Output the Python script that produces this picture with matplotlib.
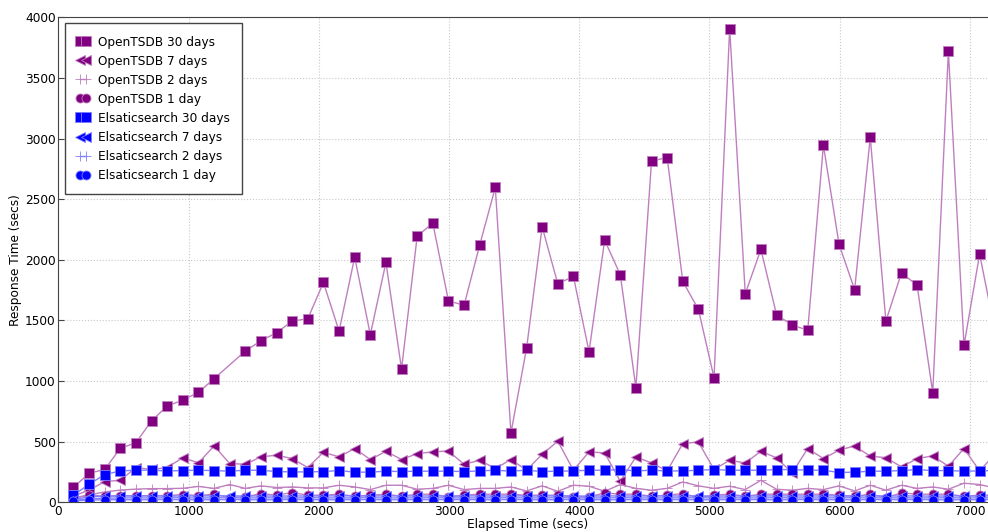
import numpy as np
import matplotlib
matplotlib.use("Agg")
import matplotlib.pyplot as plt

# sample times (secs)
elapsed = [115, 235, 355, 475, 595, 715, 835, 955, 1075, 1195,
           1315, 1435, 1555, 1675, 1795, 1915, 2035, 2155, 2275, 2395,
           2515, 2635, 2755, 2875, 2995, 3115, 3235, 3355, 3475, 3595,
           3715, 3835, 3955, 4075, 4195, 4315, 4435, 4555, 4675, 4795,
           4915, 5035, 5155, 5275, 5395, 5515, 5635, 5755, 5875, 5995,
           6115, 6235, 6355, 6475, 6595, 6715, 6835, 6955, 7075, 7195]

tsdb_30 = [123, 238, 271, 444, 491, 672, 793, 843, 906, 1019,
           np.nan, 1247, 1332, 1398, 1494, 1514, 1813, 1412, 2022, 1382,
           1978, 1099, 2195, 2303, 1662, 1624, 2121, 2597, 570, 1269,
           2272, 1802, 1863, 1241, 2162, 1877, 945, 2814, 2844, 1822,
           1591, 1027, 3908, 1720, 2086, 1547, 1461, 1420, 2946, 2129,
           1753, 3012, 1494, 1893, 1789, 903, 3721, 1294, 2047, 1400]

tsdb_7 = [50, 100, 170, 181, 286, 270, 286, 368, 324, 465,
          319, 313, 374, 388, 360, 286, 412, 374, 443, 352,
          420, 352, 401, 415, 423, 313, 346, 278, 352, 264,
          396, 503, 264, 415, 407, 173, 374, 324, 258, 484,
          497, 270, 346, 324, 420, 366, 242, 443, 360, 429,
          465, 379, 368, 291, 360, 382, 297, 443, 258, 400]

tsdb_2 = [30, 60, 85, 100, 108, 112, 112, 115, 130, 114,
          146, 114, 135, 121, 126, 118, 118, 140, 126, 104,
          140, 140, 107, 114, 140, 104, 114, 114, 126, 93,
          135, 90, 140, 132, 90, 146, 114, 99, 114, 167,
          135, 114, 132, 104, 181, 107, 99, 114, 104, 135,
          93, 140, 99, 140, 114, 126, 107, 157, 146, 115]

tsdb_1 = [36, 60, 49, 55, 53, 55, 55, 63, 55, 66,
          38, 44, 71, 58, 80, 58, 58, 66, 49, 58,
          66, 49, 66, 66, 44, 58, 66, 66, 66, 58,
          58, 58, 44, 44, 77, 66, 66, 49, 58, 71,
          38, 58, 66, 49, 66, 66, 66, 66, 66, 58,
          49, 66, 38, 77, 66, 66, 66, 49, 58, 60]

es_30 = [58, 148, 228, 258, 264, 264, 258, 261, 264, 261,
         256, 264, 264, 253, 250, 250, 253, 261, 248, 248,
         256, 253, 256, 256, 256, 253, 258, 264, 256, 264,
         253, 256, 258, 264, 264, 269, 258, 264, 258, 258,
         264, 269, 264, 264, 264, 269, 269, 264, 264, 245,
         248, 256, 256, 261, 269, 261, 261, 256, 258, 262]

es_7 = [22, 45, 50, 52, 51, 52, 50, 52, 51, 53,
        52, 51, 52, 50, 52, 51, 52, 52, 53, 51,
        52, 52, 51, 52, 50, 52, 52, 51, 52, 52,
        51, 52, 52, 50, 52, 52, 51, 52, 52, 51,
        52, 50, 52, 52, 51, 52, 52, 51, 52, 52,
        51, 52, 52, 51, 52, 50, 52, 52, 51, 52]

es_2 = [14, 28, 33, 35, 36, 35, 37, 36, 35, 36,
        37, 35, 36, 36, 35, 37, 36, 35, 36, 37,
        35, 36, 36, 37, 35, 36, 35, 37, 36, 36,
        35, 37, 36, 35, 36, 37, 36, 35, 36, 36,
        37, 35, 36, 36, 35, 37, 36, 35, 36, 36,
        37, 35, 36, 36, 35, 36, 37, 35, 36, 36]

es_1 = [10, 18, 20, 21, 20, 21, 22, 21, 20, 21,
        22, 21, 20, 21, 22, 21, 21, 20, 22, 21,
        21, 20, 22, 21, 21, 22, 20, 21, 22, 21,
        20, 21, 22, 21, 21, 20, 22, 21, 21, 22,
        20, 21, 21, 22, 21, 20, 21, 22, 21, 21,
        20, 22, 21, 21, 22, 21, 20, 21, 21, 22]

purple = '#800080'
purple_lt = '#bf7fbf'
blue = '#0000ff'
blue_lt = '#7f7fff'

series = [
    ("OpenTSDB 30 days", tsdb_30, 's', purple, purple_lt, 6.5),
    ("OpenTSDB 7 days", tsdb_7, '<', purple, purple_lt, 7.5),
    ("OpenTSDB 2 days", tsdb_2, '+', purple_lt, purple_lt, 7),
    ("OpenTSDB 1 day", tsdb_1, 'o', purple, purple_lt, 6.5),
    ("Elsaticsearch 30 days", es_30, 's', blue, blue_lt, 6.5),
    ("Elsaticsearch 7 days", es_7, '<', blue, blue_lt, 7.5),
    ("Elsaticsearch 2 days", es_2, '+', blue_lt, blue_lt, 7),
    ("Elsaticsearch 1 day", es_1, 'o', blue, blue_lt, 6.5),
]

plt.rcParams['font.family'] = 'DejaVu Sans'
plt.rcParams['font.size'] = 8.7

fig = plt.figure(figsize=(9.88, 5.32), dpi=100)
ax = fig.add_axes([0.0592, 0.056, 0.9488, 0.9113])

x = np.array(elapsed)
for label, vals, m, fc, lc, ms in series:
    y = np.array(vals, dtype=float)
    ok = ~np.isnan(y)
    ax.plot(x[ok], y[ok], marker=m, color=lc, lw=1, markerfacecolor=fc,
            markeredgecolor=lc, markeredgewidth=0.6, markersize=ms, label=label)

ax.set_xlim(0, 7200)
ax.set_ylim(0, 4000)
ax.set_xticks(range(0, 8000, 1000))
ax.set_yticks(range(0, 4500, 500))
ax.grid(True, color='#c8c8c8', linestyle=':', linewidth=0.8)
ax.tick_params(direction='in', length=4, pad=2, color='#444444')
for s in ax.spines.values():
    s.set_color('#444444')

ax.set_xlabel("Elapsed Time (secs)", labelpad=0)
ax.set_ylabel("Response Time (secs)", labelpad=2)

leg = ax.legend(loc='upper left', numpoints=2, handlelength=1.1,
                handletextpad=0.7, borderpad=1.0, labelspacing=0.5,
                borderaxespad=0.5, fancybox=False, framealpha=1)
leg.get_frame().set_edgecolor('#444444')
for h in leg.legend_handles:
    if h.get_marker() != '+':
        h.set_linestyle('none')

fig.savefig("out.png", dpi=100, facecolor='white')
